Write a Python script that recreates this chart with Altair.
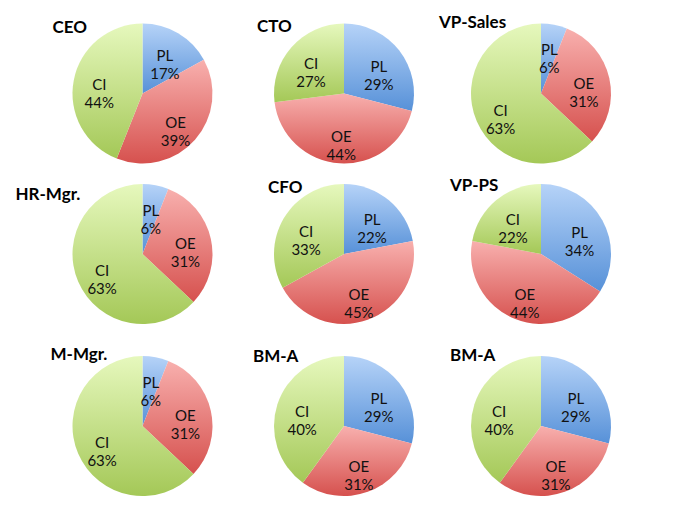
import altair as alt
import pandas as pd

# ---- data ----
roles = ["CEO", "CTO", "VP-Sales", "HR-Mgr.", "CFO", "VP-PS", "M-Mgr.", "BM-A", "BM-A"]
categories = ["PL", "OE", "CI"]
pl_share = [17, 29, 6, 6, 22, 34, 6, 29, 29]
oe_share = [39, 44, 31, 31, 45, 44, 31, 31, 31]
ci_share = [44, 27, 63, 63, 33, 22, 63, 40, 40]

records = []
for i, role in enumerate(roles):
    vals = (pl_share[i], oe_share[i], ci_share[i])
    for k, (cat, v) in enumerate(zip(categories, vals)):
        records.append({"panel": i, "row": i // 3, "col": i % 3, "role": role,
                        "cat": cat, "order": k, "value": v,
                        "label": f"{cat}\n{v}%"})
df = pd.DataFrame(records)

# ---- styling / layout ----
def grad(top, bottom):
    return {"gradient": "linear", "x1": 0, "y1": 0, "x2": 0, "y2": 1,
            "stops": [{"offset": 0, "color": top}, {"offset": 1, "color": bottom}]}

fill_spec = {
    "condition": [
        {"test": "datum.cat === 'PL'", "value": grad("#b6d3f8", "#5791d8")},
        {"test": "datum.cat === 'OE'", "value": grad("#f8b0ae", "#d6514e")},
    ],
    "value": grad("#e6f8bd", "#a4c857"),
}

xs = alt.Scale(domain=[0, 1, 2], range=[134.5, 336, 533], zero=False, nice=False)
ys = alt.Scale(domain=[0, 1, 2], range=[85.5, 246, 418], zero=False, nice=False)
X = alt.X("col:Q", scale=xs, axis=None)
Y = alt.Y("row:Q", scale=ys, axis=None)
ts = alt.Scale(domain=[0, 100], zero=False, nice=False)

# title offsets (left edge, baseline) relative to the pie centre
title_off = [(-90, -61), (-87, -62), (-102, -66),
             (-127, -54), (-76, -61), (-91, -63),
             (-92, -66), (-91, -64), (-91, -65)]

base = alt.Chart(df).transform_window(
    cum="sum(value)", groupby=["panel"], sort=[alt.SortField("order")],
    frame=[None, 0]
).transform_calculate(
    start="datum.cum - datum.value", mid="datum.cum - datum.value / 2"
)

arcs = base.mark_arc(radius=70).encode(
    x=X, y=Y,
    theta=alt.Theta("start:Q", scale=ts), theta2="cum:Q",
    fill=fill_spec,
)

labels = base.mark_text(radius=44, font="Lato", fontSize=15, lineBreak="\n",
                        lineHeight=18, color="#111111", baseline="middle",
                        align="center").encode(
    x=X, y=Y, theta=alt.Theta("mid:Q", scale=ts), text="label:N"
)

titles = []
for i, (dx, dy) in enumerate(title_off):
    titles.append(
        alt.Chart(df).transform_filter(
            (alt.datum.panel == i) & (alt.datum.order == 0)
        ).mark_text(font="Lato", fontSize=17, fontWeight="bold", align="left",
                    baseline="alphabetic", color="#000000", dx=dx, dy=dy)
        .encode(x=X, y=Y, text="role:N")
    )

chart = (alt.layer(arcs, labels, *titles)
         .properties(width=668, height=496, autosize="none", padding=0)
         .configure_view(stroke=None))

chart.save("out.html", embed_options={"renderer": "svg", "actions": False})
